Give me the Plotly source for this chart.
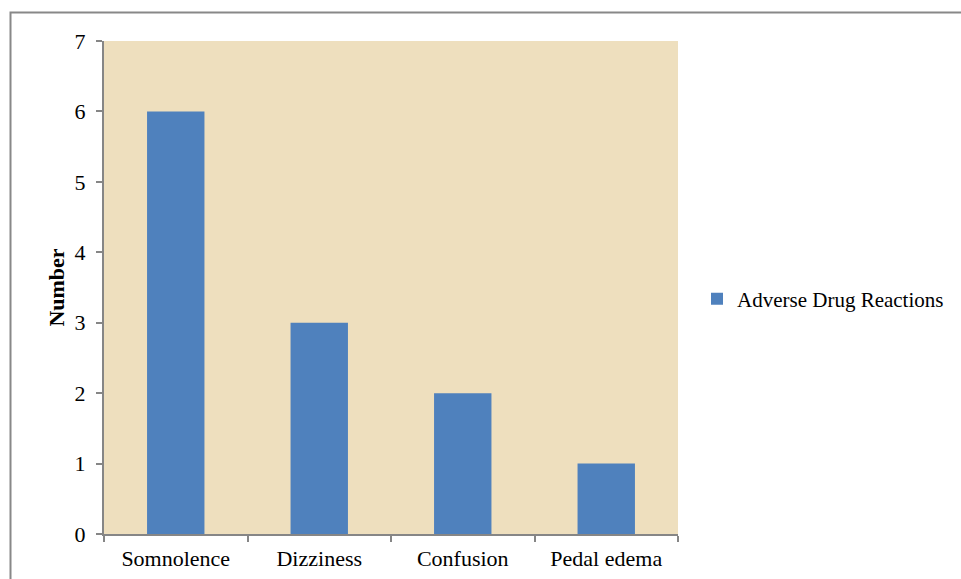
import plotly.graph_objects as go

categories = ["Somnolence", "Dizziness", "Confusion", "Pedal edema"]
values = [6, 3, 2, 1]
series_name = "Adverse Drug Reactions"
y_ticks = [0, 1, 2, 3, 4, 5, 6, 7]

L, R, T, B = 104, 283, 41, 45
W, H = 961, 579
pw, ph = W - L - R, H - T - B

def px2x(p):
    return (p - L) / pw

def py2y(p):
    return (H - B - p) / ph

fig = go.Figure()
fig.add_trace(go.Bar(x=categories, y=values, name=series_name,
                     marker=dict(color="#4F81BD", line=dict(width=0)),
                     showlegend=True))

font = "Liberation Serif, Times New Roman, serif"
fig.update_layout(
    width=W, height=H,
    margin=dict(l=L, r=R, t=T, b=B, pad=0, autoexpand=False),
    paper_bgcolor="white",
    plot_bgcolor="#EEDFBE",
    bargap=0.6,
    font=dict(family=font, size=21, color="black"),
    showlegend=True,
    legend=dict(x=px2x(697), y=py2y(299), xanchor="left", yanchor="middle",
                font=dict(family=font, size=21, color="black"),
                itemwidth=30, bgcolor="rgba(0,0,0,0)", tracegroupgap=0),
    xaxis=dict(showgrid=False, showline=True, linecolor="#868686", linewidth=2,
               ticks="outside", tickson="boundaries", ticklen=6, tickcolor="#868686",
               tickwidth=2, tickfont=dict(family=font, size=22, color="black"),
               ticklabelstandoff=4, mirror=False, automargin=False),
    yaxis=dict(range=[0, 7], tickvals=y_ticks, showgrid=False, showline=True,
               linecolor="#868686", linewidth=2, ticks="outside", ticklen=6,
               tickcolor="#868686", tickwidth=2, zeroline=False,
               ticklabelstandoff=6, automargin=False,
               tickfont=dict(family=font, size=22, color="black"),
               title=dict(text="<b>Number</b>", standoff=4,
                          font=dict(family=font, size=22, color="black"))),
)

fig.add_shape(type="rect", xref="paper", yref="paper",
              x0=px2x(10.5), y0=py2y(600), x1=px2x(990), y1=py2y(12.5),
              line=dict(color="#888888", width=2), fillcolor="rgba(0,0,0,0)",
              layer="below")

fig.write_html("out.html")
